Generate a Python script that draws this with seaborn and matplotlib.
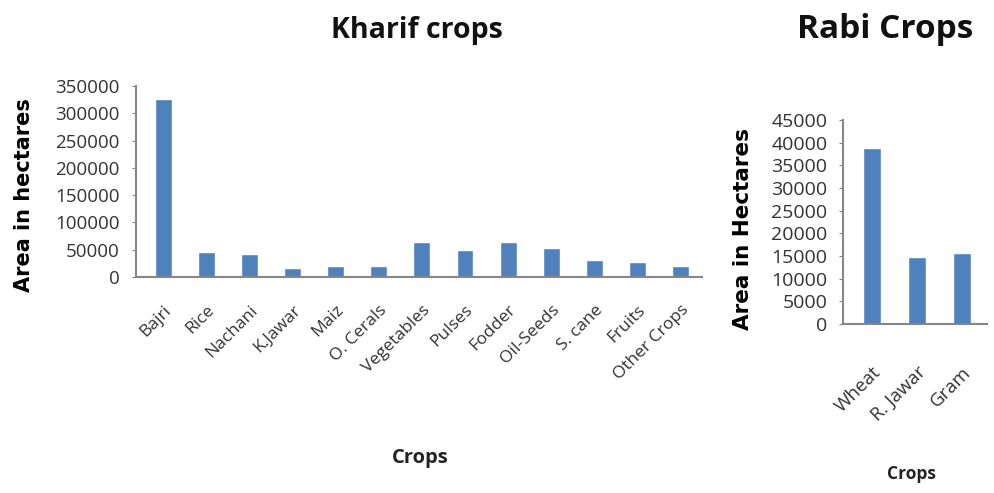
import pandas as pd
import matplotlib
matplotlib.use('Agg')
import matplotlib.pyplot as plt
import seaborn as sns

# Data
kharif_crops = ['Bajri', 'Rice', 'Nachani', 'K.Jawar', 'Maiz', 'O. Cerals',
                'Vegetables', 'Pulses', 'Fodder', 'Oil-Seeds', 'S. cane',
                'Fruits', 'Other Crops']
kharif_area = [326000, 45800, 42000, 16000, 19500, 19500,
               64800, 49500, 64800, 53000, 31000, 27500, 20000]

rabi_crops = ['Wheat', 'R. Jawar', 'Gram']
rabi_area = [38900, 14850, 15700]

kharif_ticks = [0, 50000, 100000, 150000, 200000, 250000, 300000, 350000]
rabi_ticks = [0, 5000, 10000, 15000, 20000, 25000, 30000, 35000, 40000, 45000]

sns.set_style('ticks')
plt.rcParams['font.family'] = ['Open Sans', 'DejaVu Sans']

BAR = '#4F81BD'
AXIS = '#868686'
TXT = '#333333'

fig = plt.figure(figsize=(9.95, 4.93), dpi=100)

# Kharif crops
df_k = pd.DataFrame({'Crop': kharif_crops, 'Area': kharif_area})
ax1 = fig.add_axes([0.1367, 0.438, 0.569, 0.3874])
sns.barplot(data=df_k, x='Crop', y='Area', color=BAR, width=0.39,
            saturation=1, ax=ax1)
ax1.set_ylim(0, 350000)
ax1.set_xlim(-0.63, len(kharif_crops) - 0.5)
ax1.set_yticks(kharif_ticks)
ax1.set_yticklabels([str(t) for t in kharif_ticks], fontsize=13.5, color=TXT)
ax1.set_xticks(range(len(kharif_crops)))
ax1.set_xticklabels(kharif_crops, rotation=45, ha='right',
                    rotation_mode='anchor', fontsize=12.5, color=TXT)
ax1.tick_params(axis='x', length=0, pad=18)
ax1.tick_params(axis='y', length=3, color=AXIS, pad=9)
ax1.set_xlabel('Crops', fontsize=14.5, fontweight='bold', color='#222222')
ax1.xaxis.set_label_coords(0.502, -0.895)
ax1.set_ylabel('Area in hectares', family='DejaVu Sans', fontsize=15,
               fontweight='bold', color='black')
ax1.yaxis.set_label_coords(-0.18, 0.43)

# Rabi crops
df_r = pd.DataFrame({'Crop': rabi_crops, 'Area': rabi_area})
ax2 = fig.add_axes([0.847, 0.3428, 0.145, 0.4138])
sns.barplot(data=df_r, x='Crop', y='Area', color=BAR, width=0.4,
            saturation=1, ax=ax2)
ax2.set_ylim(0, 45000)
ax2.set_xlim(-0.64, len(rabi_crops) - 0.44)
ax2.set_yticks(rabi_ticks)
ax2.set_yticklabels([str(t) for t in rabi_ticks], fontsize=14, color=TXT)
ax2.set_xticks(range(len(rabi_crops)))
ax2.set_xticklabels(rabi_crops, rotation=45, ha='right',
                    rotation_mode='anchor', fontsize=13.5, color=TXT)
ax2.tick_params(axis='x', length=0, pad=28)
ax2.tick_params(axis='y', length=3, color=AXIS, pad=8)
ax2.set_xlabel('Crops', fontsize=12.5, fontweight='bold', color='#222222')
ax2.xaxis.set_label_coords(0.479, -0.69)
ax2.set_ylabel('Area in Hectares', family='DejaVu Sans', fontsize=15.5,
               fontweight='bold', color='black')
ax2.yaxis.set_label_coords(-0.625, 0.466)

for ax in (ax1, ax2):
    sns.despine(ax=ax)
    for side in ('left', 'bottom'):
        ax.spines[side].set_color(AXIS)
        ax.spines[side].set_linewidth(1.5)

# Titles
fig.text(417 / 995, 1 - 38 / 493, 'Kharif crops', fontsize=20.5,
         fontweight='bold', ha='center', va='baseline', color='#111111')
fig.text(885 / 995, 1 - 38 / 493, 'Rabi Crops', fontsize=24,
         fontweight='bold', ha='center', va='baseline', color='#111111')

fig.savefig('out.png', dpi=100, facecolor='white')
